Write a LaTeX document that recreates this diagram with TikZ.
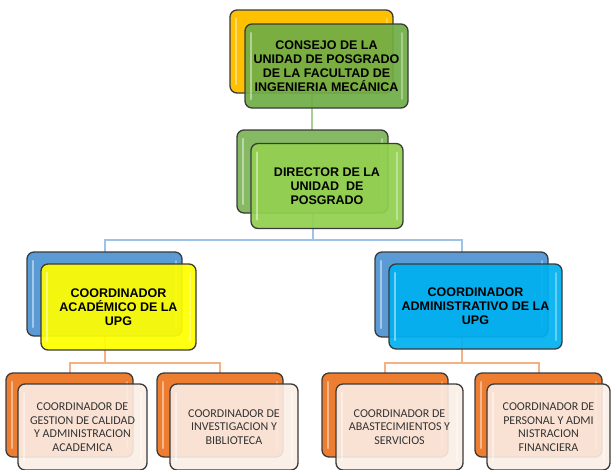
\documentclass[tikz,border=0pt]{standalone}
\usepackage{fontspec}
\setmainfont{Liberation Sans}
\newfontfamily\calibri{Carlito}
\usetikzlibrary{backgrounds}
\definecolor{gold}{HTML}{FFC000}
\definecolor{leaf}{HTML}{70AD47}
\definecolor{lime}{HTML}{92D050}
\definecolor{steel}{HTML}{5B9BD5}
\definecolor{sky}{HTML}{00B0F0}
\definecolor{lemon}{HTML}{FFFF00}
\definecolor{pumpkin}{HTML}{ED7D31}
\definecolor{blush}{HTML}{FBEEE6}
\definecolor{rim}{HTML}{3A3A3A}
\begin{document}
\begin{tikzpicture}[x=1pt, y=-1pt,
               box_style/.style={rectangle,rounded corners=7pt,draw=rim,line width=1.3pt,inner sep=0pt,outer sep=0pt,
                   path picture={\draw[white,opacity=0.45,line width=2.5pt,line cap=round]
                       ([xshift=6pt,yshift=-9pt]path picture bounding box.north west) -- ([xshift=6pt,yshift=9pt]path picture bounding box.south west);
                       \draw[white,opacity=0.35,line width=2pt,line cap=round]
                       ([xshift=-6pt,yshift=-9pt]path picture bounding box.north east) -- ([xshift=-6pt,yshift=9pt]path picture bounding box.south east);}},
               front_style/.style={box_style,fill opacity=0.93,text opacity=1,align=center,font=\bfseries\fontsize{12.5}{14}\selectfont},
               low_style/.style={box_style,fill=blush,fill opacity=0.9,text opacity=1,align=center,text=black!80,font=\calibri\fontsize{12}{13.6}\selectfont},
               edge_green/.style={draw=leaf!60,line width=2pt},
               edge_blue/.style={draw=steel!60,line width=2pt},
               edge_orange/.style={draw=pumpkin!60,line width=2pt}]
                \useasboundingbox (0,0) rectangle (612,469);

                % consejo y director
                \node[box_style,fill=gold,minimum width=163pt,minimum height=83pt] (consejo_back) at (311.5,51.5) {};
                \node[front_style,fill=leaf,minimum width=163pt,minimum height=84pt] (consejo) at (326.5,66)
                    {CONSEJO DE LA\\UNIDAD DE POSGRADO\\DE LA FACULTAD DE\\INGENIERIA MECÁNICA};
                \node[box_style,fill=leaf!85,minimum width=151pt,minimum height=83pt] (director_back) at (312.5,171.5) {};
                \node[front_style,fill=lime,minimum width=152pt,minimum height=85pt] (director) at (327,186)
                    {DIRECTOR DE LA\\UNIDAD\ \ DE\\POSGRADO};

                % coordinadores
                \node[box_style,fill=steel,minimum width=155pt,minimum height=84pt] (acad_back) at (104.5,294) {};
                \node[front_style,fill=lemon,minimum width=155pt,minimum height=86pt] (acad) at (118.5,307)
                    {COORDINADOR\\ACADÉMICO DE LA\\UPG};
                \node[box_style,fill=steel,minimum width=173pt,minimum height=85pt] (admin_back) at (461.5,294.5) {};
                \node[front_style,fill=sky,minimum width=173pt,minimum height=85pt] (admin) at (475.5,306.5)
                    {COORDINADOR\\ADMINISTRATIVO DE LA\\UPG};

                % nivel inferior
                \node[box_style,fill=pumpkin,minimum width=127pt,minimum height=84pt] (calidad_back) at (69.5,415) {};
                \node[low_style,minimum width=129pt,minimum height=86pt] (calidad) at (82.5,427)
                    {COORDINADOR DE\\GESTION DE CALIDAD\\Y ADMINISTRACION\\ACADEMICA};
                \node[box_style,fill=pumpkin,minimum width=126pt,minimum height=84pt] (invest_back) at (220,415) {};
                \node[low_style,minimum width=128pt,minimum height=86pt] (invest) at (234,427)
                    {COORDINADOR DE\\INVESTIGACION Y\\BIBLIOTECA};
                \node[box_style,fill=pumpkin,minimum width=126pt,minimum height=84pt] (abast_back) at (385,415) {};
                \node[low_style,minimum width=127pt,minimum height=86pt] (abast) at (399.5,427)
                    {COORDINADOR DE\\ABASTECIMIENTOS Y\\SERVICIOS};
                \node[box_style,fill=pumpkin,minimum width=127pt,minimum height=84pt] (personal_back) at (538.5,415) {};
                \node[low_style,minimum width=123pt,minimum height=86pt] (personal) at (548.5,427)
                    {COORDINADOR DE\\PERSONAL Y ADMI\\NISTRACION\\FINANCIERA};

                \begin{scope}[on background layer]
                \draw[edge_green]  (consejo_back.south) -- (consejo_back.south |- director_back.north);
                \draw[edge_blue]   (director_back.south) -- ++(0,27) -| (acad_back.north);
                \draw[edge_blue]   (director_back.south) -- ++(0,27) -| (admin_back.north);
                \draw[edge_orange] (acad_back.south) -- ++(0,27) -| (calidad_back.north);
                \draw[edge_orange] (acad_back.south) -- ++(0,27) -| (invest_back.north);
                \draw[edge_orange] (admin_back.south) -- ++(0,26) -| (abast_back.north);
                \draw[edge_orange] (admin_back.south) -- ++(0,26) -| (personal_back.north);
                \end{scope}
            \end{tikzpicture}
\end{document}
